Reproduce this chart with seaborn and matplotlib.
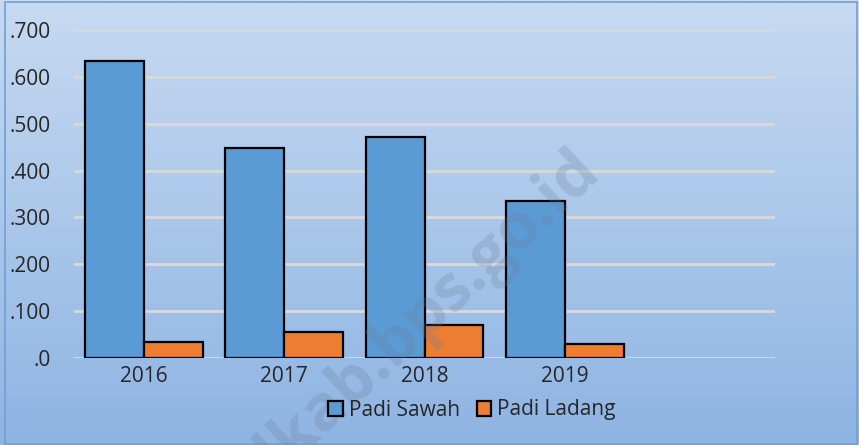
import numpy as np
import pandas as pd
import matplotlib
matplotlib.use("Agg")
import matplotlib.pyplot as plt
import seaborn as sns
from matplotlib.patches import Patch, Rectangle

# values
years = ["2016", "2017", "2018", "2019"]
padi_sawah = [634, 448, 472, 336]
padi_ladang = [34, 56, 70, 29]
series = ["Padi Sawah", "Padi Ladang"]
colors = ["#5b9bd5", "#ed7d31"]
ytick_vals = [0, 100, 200, 300, 400, 500, 600, 700]
ytick_labels = [".0", ".100", ".200", ".300", ".400", ".500", ".600", ".700"]

df = pd.DataFrame({
    "year": years * 2,
    "value": padi_sawah + padi_ladang,
    "jenis": [series[0]] * len(years) + [series[1]] * len(years),
})

sns.set_style("white")
plt.rcParams["font.family"] = ["Open Sans", "DejaVu Sans"]

fig = plt.figure(figsize=(8.59, 4.45), dpi=100)

# gradient background over whole figure
bg = fig.add_axes([0, 0, 1, 1], zorder=-10)
top = np.array([199, 218, 241]) / 255
bot = np.array([142, 180, 227]) / 255
t = np.linspace(0, 1, 256)[:, None]
grad = (top * (1 - t) + bot * t)[:, None, :]
bg.imshow(grad, aspect="auto", extent=[0, 1, 0, 1])
bg.add_patch(Rectangle((0.006, 0.003), 0.992, 0.992, fill=False,
                       edgecolor="#6fa0d8", linewidth=1.2))
bg.set_axis_off()

ax = fig.add_axes([74 / 859, 87 / 445, 701 / 859, 328 / 445])
ax.patch.set_alpha(0)
order = years + [" "]
sns.barplot(data=df, x="year", y="value", hue="jenis", order=order,
            hue_order=series, palette=colors, width=0.84,
            edgecolor="black", linewidth=1.6, saturation=1, ax=ax, zorder=3)

ax.set_ylim(0, 700)
ax.set_yticks(ytick_vals)
ax.set_yticklabels(ytick_labels)
ax.yaxis.grid(True, color="#d9d9d9", linewidth=2, zorder=0)
ax.set_axisbelow(True)
for s in ax.spines.values():
    s.set_visible(False)
ax.tick_params(axis="both", length=0, labelsize=15, colors="#262626")
ax.tick_params(axis="y", pad=17)
ax.tick_params(axis="x", pad=6)
ax.set_xlabel("")
ax.set_ylabel("")
ax.get_legend().remove()

handles = [Patch(facecolor=c, edgecolor="black", linewidth=1.6) for c in colors]
fig.legend(handles, series, loc="center", bbox_to_anchor=(472 / 859, 1 - 410 / 445),
           ncol=2, frameon=False, fontsize=15, handlelength=0.7, handleheight=0.7,
           handletextpad=0.3, columnspacing=0.8, labelcolor="#262626")

# watermark
fig.text(570 / 859, 1 - 140 / 445, "gunungkidulkab.bps.go.id", rotation=43,
         ha="right", va="top", rotation_mode="anchor", fontsize=46,
         fontweight="bold", color="#6d7f99", alpha=0.26)

fig.savefig("out.png", dpi=100)
